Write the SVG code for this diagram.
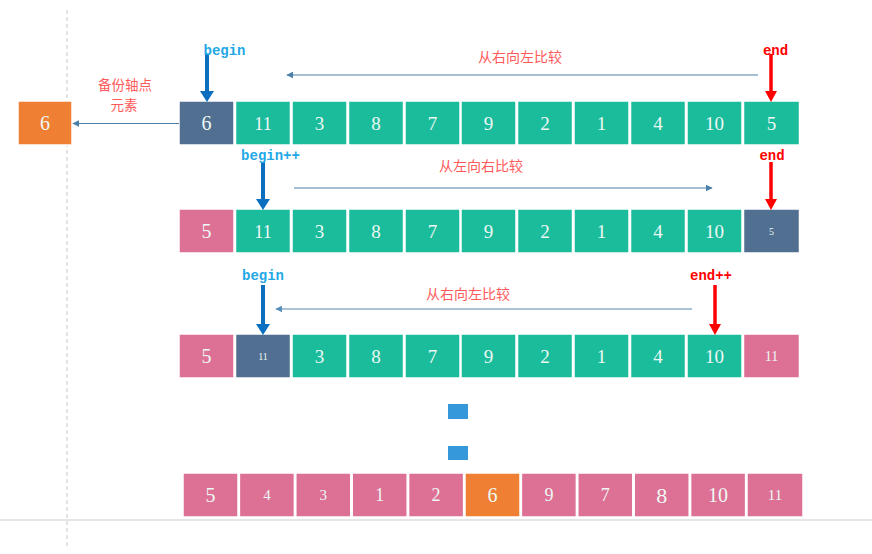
<svg xmlns="http://www.w3.org/2000/svg" width="872" height="554" viewBox="0 0 872 554">
<style>
.c rect{stroke:#ffffff;stroke-width:1.5}
.t{fill:#1abc9c}.d{fill:#516f90}.p{fill:#dd7095}.o{fill:#ef7f33}
.n{font-family:"Liberation Serif","DejaVu Serif",serif;fill:#eef8f4;text-anchor:middle}
.lb{font-family:"Noto Sans CJK SC",sans-serif;font-size:14px;fill:#ff5a5a;text-anchor:middle}
.lb2{font-family:"Noto Sans CJK SC",sans-serif;font-size:13.5px;fill:#ff5a5a;text-anchor:middle}
.bg{font-family:"Liberation Mono",monospace;font-weight:bold;font-size:14px;fill:#22a8e6;text-anchor:middle}
.en{font-family:"Liberation Mono",monospace;font-weight:bold;font-size:14px;fill:#ff0000;text-anchor:middle}
.ba{stroke:#0a6fbf;stroke-width:4}
.ra{stroke:#ff0000;stroke-width:3.5}
.cmp{stroke:#4a7fa8;stroke-width:1.2;fill:none}
</style>
<defs>
<marker id="ah" viewBox="0 0 10 10" refX="9" refY="5" markerWidth="7" markerHeight="7" markerUnits="userSpaceOnUse" orient="auto"><path d="M0,0 L10,5 L0,10 z" fill="#4a7fa8"/></marker>
<marker id="ahl" viewBox="0 0 10 10" refX="9" refY="5" markerWidth="7" markerHeight="7" markerUnits="userSpaceOnUse" orient="auto"><path d="M0,0 L10,5 L0,10 z" fill="#5a8fb8"/></marker>
</defs>
<line x1="67" y1="10" x2="67" y2="546" stroke="#c8c8c8" stroke-width="1" stroke-dasharray="4,3"/>
<line x1="0" y1="520" x2="872" y2="520" stroke="#e6e6e6" stroke-width="2"/>

<g id="pivot-backup" class="c"><rect class="o" x="18" y="101" width="54" height="44"/><text class="n" x="45" y="130" font-size="20">6</text></g>
<text class="lb2" x="125" y="90">备份轴点</text>
<text class="lb2" x="124" y="110">元素</text>

<g id="row1" class="c">
<rect class="d" x="179" y="101" width="55" height="44"/><text class="n" x="206.5" y="130" font-size="20">6</text>
<rect class="t" x="235.5" y="101" width="55" height="44"/><text class="n" x="263" y="130" font-size="18">11</text>
<rect class="t" x="292" y="101" width="55" height="44"/><text class="n" x="319.5" y="130" font-size="19">3</text>
<rect class="t" x="348.5" y="101" width="55" height="44"/><text class="n" x="376" y="130" font-size="19">8</text>
<rect class="t" x="405" y="101" width="55" height="44"/><text class="n" x="432.5" y="130" font-size="19">7</text>
<rect class="t" x="461" y="101" width="55" height="44"/><text class="n" x="488.5" y="130" font-size="19">9</text>
<rect class="t" x="517.5" y="101" width="55" height="44"/><text class="n" x="545" y="130" font-size="19">2</text>
<rect class="t" x="574" y="101" width="55" height="44"/><text class="n" x="601.5" y="130" font-size="19">1</text>
<rect class="t" x="630.5" y="101" width="55" height="44"/><text class="n" x="658" y="130" font-size="19">4</text>
<rect class="t" x="687" y="101" width="55" height="44"/><text class="n" x="714.5" y="130" font-size="19">10</text>
<rect class="t" x="743.5" y="101" width="56" height="44"/><text class="n" x="771.5" y="130" font-size="19">5</text>
</g>

<g id="row2" class="c">
<rect class="p" x="179" y="209" width="55" height="44"/><text class="n" x="206.5" y="238" font-size="20">5</text>
<rect class="t" x="235.5" y="209" width="55" height="44"/><text class="n" x="263" y="238" font-size="18">11</text>
<rect class="t" x="292" y="209" width="55" height="44"/><text class="n" x="319.5" y="238" font-size="19">3</text>
<rect class="t" x="348.5" y="209" width="55" height="44"/><text class="n" x="376" y="238" font-size="19">8</text>
<rect class="t" x="405" y="209" width="55" height="44"/><text class="n" x="432.5" y="238" font-size="19">7</text>
<rect class="t" x="461" y="209" width="55" height="44"/><text class="n" x="488.5" y="238" font-size="19">9</text>
<rect class="t" x="517.5" y="209" width="55" height="44"/><text class="n" x="545" y="238" font-size="19">2</text>
<rect class="t" x="574" y="209" width="55" height="44"/><text class="n" x="601.5" y="238" font-size="19">1</text>
<rect class="t" x="630.5" y="209" width="55" height="44"/><text class="n" x="658" y="238" font-size="19">4</text>
<rect class="t" x="687" y="209" width="55" height="44"/><text class="n" x="714.5" y="238" font-size="19">10</text>
<rect class="d" x="743.5" y="209" width="56" height="44"/><text class="n" x="771.5" y="235" font-size="10">5</text>
</g>

<g id="row3" class="c">
<rect class="p" x="179" y="334" width="55" height="44"/><text class="n" x="206.5" y="363" font-size="20">5</text>
<rect class="d" x="235.5" y="334" width="55" height="44"/><text class="n" x="263" y="360" font-size="10">11</text>
<rect class="t" x="292" y="334" width="55" height="44"/><text class="n" x="319.5" y="363" font-size="19">3</text>
<rect class="t" x="348.5" y="334" width="55" height="44"/><text class="n" x="376" y="363" font-size="19">8</text>
<rect class="t" x="405" y="334" width="55" height="44"/><text class="n" x="432.5" y="363" font-size="19">7</text>
<rect class="t" x="461" y="334" width="55" height="44"/><text class="n" x="488.5" y="363" font-size="19">9</text>
<rect class="t" x="517.5" y="334" width="55" height="44"/><text class="n" x="545" y="363" font-size="19">2</text>
<rect class="t" x="574" y="334" width="55" height="44"/><text class="n" x="601.5" y="363" font-size="19">1</text>
<rect class="t" x="630.5" y="334" width="55" height="44"/><text class="n" x="658" y="363" font-size="19">4</text>
<rect class="t" x="687" y="334" width="55" height="44"/><text class="n" x="714.5" y="363" font-size="19">10</text>
<rect class="p" x="743.5" y="334" width="56" height="44"/><text class="n" x="771.5" y="361" font-size="14">11</text>
</g>

<g id="dots">
<rect x="448" y="404" width="20" height="15" fill="#3498db"/>
<rect x="448" y="446" width="20" height="14" fill="#3498db"/>
</g>

<g id="row4" class="c">
<rect class="p" x="183" y="473" width="55" height="44"/><text class="n" x="210.5" y="502" font-size="20">5</text>
<rect class="p" x="239.4" y="473" width="55" height="44"/><text class="n" x="267" y="500" font-size="15">4</text>
<rect class="p" x="295.8" y="473" width="55" height="44"/><text class="n" x="323.3" y="500" font-size="15">3</text>
<rect class="p" x="352.2" y="473" width="55" height="44"/><text class="n" x="379.7" y="501" font-size="18">1</text>
<rect class="p" x="408.6" y="473" width="55" height="44"/><text class="n" x="436.1" y="501" font-size="18">2</text>
<rect class="o" x="465" y="473" width="55" height="44"/><text class="n" x="492.5" y="502" font-size="20">6</text>
<rect class="p" x="521.4" y="473" width="55" height="44"/><text class="n" x="548.9" y="501" font-size="18">9</text>
<rect class="p" x="577.8" y="473" width="55" height="44"/><text class="n" x="605.3" y="501" font-size="18">7</text>
<rect class="p" x="634.2" y="473" width="55" height="44"/><text class="n" x="661.7" y="503" font-size="22">8</text>
<rect class="p" x="690.6" y="473" width="55" height="44"/><text class="n" x="718.1" y="502" font-size="20">10</text>
<rect class="p" x="747" y="473" width="56" height="44"/><text class="n" x="775" y="500" font-size="15">11</text>
</g>

<g id="connectors">
<line class="cmp" x1="179" y1="123.5" x2="73" y2="123.5" marker-end="url(#ah)"/>
<line class="cmp" x1="758" y1="75" x2="287" y2="75" marker-end="url(#ah)"/>
<line class="cmp" x1="294" y1="188" x2="712" y2="188" marker-end="url(#ah)"/>
<line x1="692" y1="309" x2="276" y2="309" stroke="#a9c4d6" stroke-width="2" marker-end="url(#ahl)"/>
<line class="ba" x1="207" y1="54" x2="207" y2="92"/><path d="M200,91 L214,91 L207,102 z" fill="#0a6fbf"/>
<line class="ra" x1="771" y1="54" x2="771" y2="92"/><path d="M765,91 L777,91 L771,102 z" fill="#ff0000"/>
<line class="ba" x1="263" y1="162" x2="263" y2="200"/><path d="M256,199 L270,199 L263,210 z" fill="#0a6fbf"/>
<line class="ra" x1="771" y1="162" x2="771" y2="200"/><path d="M765,199 L777,199 L771,210 z" fill="#ff0000"/>
<line class="ba" x1="263" y1="285" x2="263" y2="325"/><path d="M256,324 L270,324 L263,335 z" fill="#0a6fbf"/>
<line class="ra" x1="715" y1="285" x2="715" y2="325"/><path d="M709,324 L721,324 L715,335 z" fill="#ff0000"/>
</g>

<text class="bg" x="224.5" y="55">begin</text>
<text class="en" x="775.5" y="55">end</text>
<text class="lb" x="520" y="62">从右向左比较</text>
<text class="bg" x="270.5" y="160">begin++</text>
<text class="en" x="772" y="160">end</text>
<text class="lb" x="481" y="171">从左向右比较</text>
<text class="bg" x="263" y="280">begin</text>
<text class="en" x="711" y="280">end++</text>
<text class="lb" x="468" y="299">从右向左比较</text>
</svg>
